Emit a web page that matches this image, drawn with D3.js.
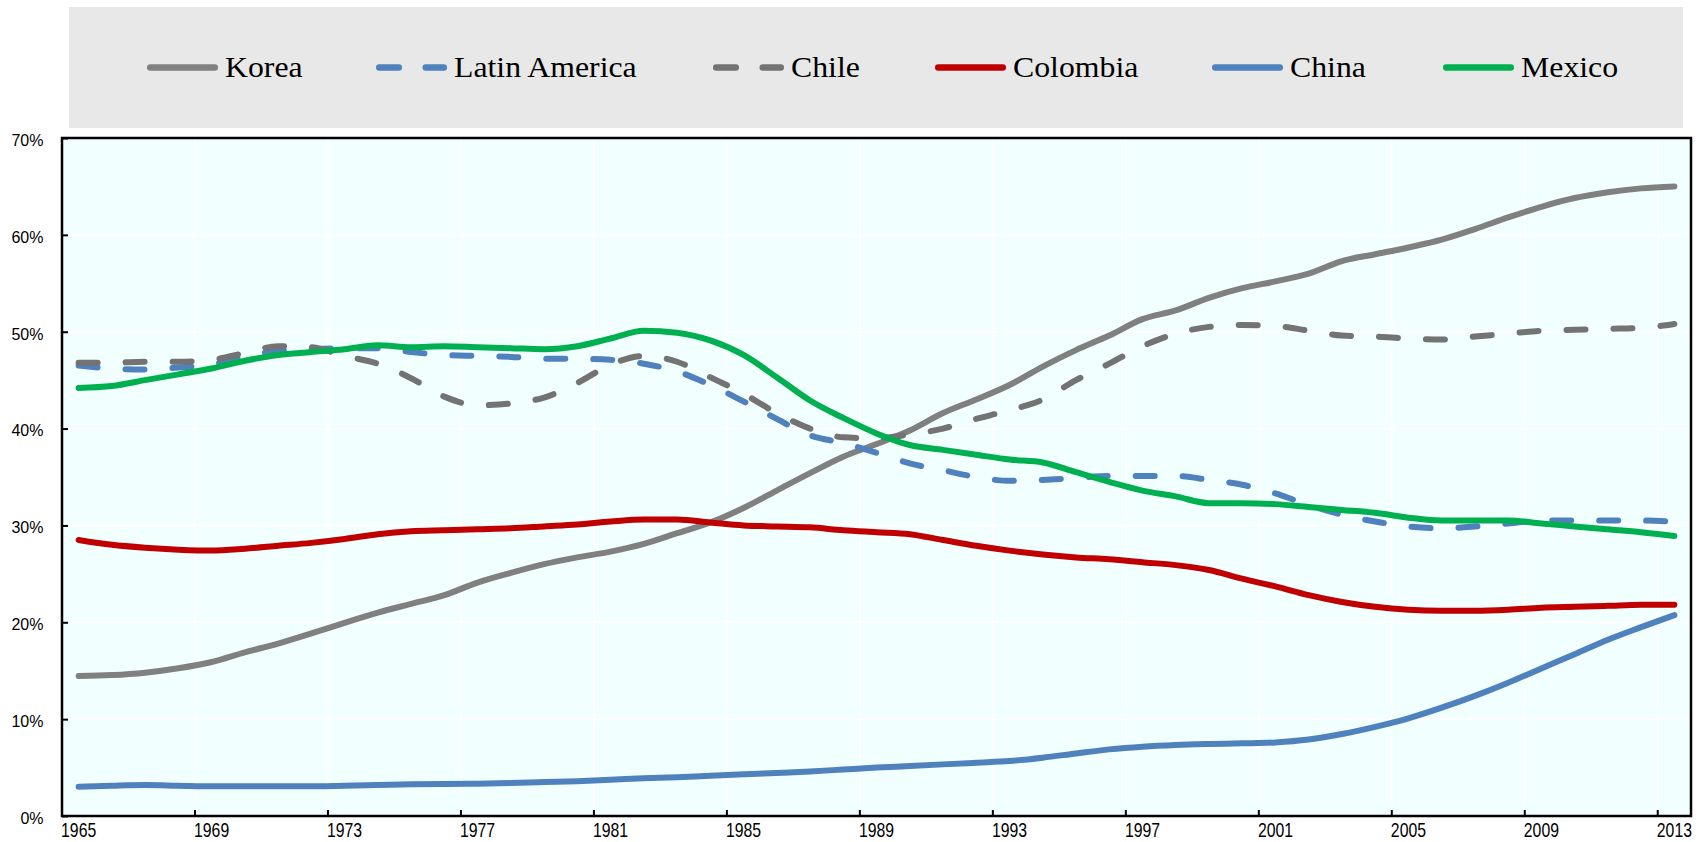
<!DOCTYPE html>
<html>
<head>
<meta charset="utf-8">
<script src="https://cdn.jsdelivr.net/npm/d3@7"></script>
<style>
  html, body { margin: 0; padding: 0; background: #ffffff; }
  svg { display: block; }
</style>
</head>
<body>
<svg id="chart" width="1708" height="842"></svg>
<script>
// ---- Data (share of ..., 1965–2013) ----
const years = d3.range(1965, 2014);
const xTickYears = d3.range(1965, 2014, 4);
const yTicks = [0, 0.1, 0.2, 0.3, 0.4, 0.5, 0.6, 0.7];

const korea = [14.45,14.55,14.8,15.25,15.9,16.9,17.8,18.85,19.95,21.0,
  21.9,22.8,24.1,25.1,26.0,26.7,27.3,
  28.1,29.2,30.3,31.8,33.6,35.4,37.1,38.4,39.8,41.6,43.0,44.5,46.4,48.1,49.6,51.3,52.2,
  53.5,54.5,55.2,56.0,57.3,58.0,58.7,59.5,60.6,61.8,62.9,63.8,64.4,64.8,65.0];
const latinAmerica = [46.5,46.2,46.1,46.3,46.6,47.5,48.0,48.2,48.3,48.3,
  47.9,47.6,47.5,47.4,47.2,47.2,47.1,
  46.7,45.9,44.5,42.8,41.0,39.3,38.5,37.5,36.4,35.7,35.0,34.6,34.7,34.9,35.1,35.1,35.1,
  34.7,34.2,33.3,32.1,31.1,30.4,29.9,29.7,29.9,30.2,30.5,30.5,30.5,30.5,30.4];
const chile = [46.8,46.8,46.9,46.9,47.1,47.8,48.5,48.4,47.5,46.7,
  45.2,43.3,42.4,42.6,43.2,44.7,46.6,
  47.5,46.9,45.3,43.6,41.6,40.0,39.1,39.0,39.4,40.0,41.0,41.9,43.0,45.0,46.7,48.5,49.8,
  50.5,50.7,50.6,50.1,49.6,49.5,49.3,49.2,49.5,49.8,50.1,50.2,50.3,50.4,50.8];
const colombia = [28.5,28.0,27.7,27.5,27.4,27.6,27.9,28.2,28.6,29.1,
  29.4,29.5,29.6,29.7,29.9,30.1,30.4,
  30.6,30.6,30.3,30.0,29.9,29.8,29.5,29.3,29.1,28.5,27.9,27.4,27.0,26.7,26.5,26.2,25.9,
  25.4,24.5,23.7,22.8,22.1,21.6,21.3,21.2,21.2,21.3,21.5,21.6,21.7,21.8,21.8];
const china = [3.03,3.13,3.2,3.13,3.06,3.06,3.06,3.06,3.13,3.2,
  3.27,3.3,3.33,3.4,3.5,3.6,3.74,
  3.9,4.0,4.15,4.3,4.45,4.6,4.8,5.0,5.16,5.33,5.5,5.67,6.02,6.46,6.88,7.16,7.33,
  7.43,7.5,7.6,7.9,8.46,9.2,10.08,11.18,12.4,13.76,15.24,16.7,18.2,19.5,20.74];
const mexico = [44.2,44.4,45.0,45.6,46.2,47.0,47.6,47.9,48.2,48.6,
  48.4,48.5,48.4,48.3,48.2,48.5,49.3,
  50.1,49.9,49.1,47.6,45.3,42.9,41.1,39.5,38.3,37.8,37.3,36.8,36.5,35.5,34.5,33.6,33.0,
  32.3,32.3,32.2,31.9,31.6,31.3,30.8,30.5,30.5,30.5,30.2,29.9,29.6,29.3,28.9];

const seriesNames = ["Korea", "Latin America", "Chile", "Colombia", "China", "Mexico"];
const seriesValues = [korea, latinAmerica, chile, colombia, china, mexico];
const seriesColors = ["#808080", "#4F81BD", "#737373", "#C00000", "#4F81BD", "#00B050"];
const seriesDashed = [false, true, true, false, false, false];

// ---- Layout ----
const svg = d3.select("#chart");
const plot = { left: 62, top: 138, right: 1691, bottom: 816 };
const legendStarts = [147, 376, 713, 935, 1212, 1443];

const x = d3.scaleBand().domain(years).range([plot.left, plot.right]).padding(0);
const y = d3.scaleLinear().domain([0, 0.7]).range([plot.bottom, plot.top]);
const cx = yr => x(yr) + x.bandwidth() / 2;

// Legend box
svg.append("rect")
  .attr("x", 69).attr("y", 7).attr("width", 1614).attr("height", 121)
  .attr("fill", "#E8E8E8");

// Plot background
svg.append("rect")
  .attr("x", plot.left).attr("y", plot.top)
  .attr("width", plot.right - plot.left).attr("height", plot.bottom - plot.top)
  .attr("fill", "#F2FFFF");

// Gridlines
const grid = svg.append("g");
grid.selectAll("line.h").data(yTicks.slice(1, -1)).join("line")
  .attr("x1", plot.left).attr("x2", plot.right)
  .attr("y1", d => y(d)).attr("y2", d => y(d))
  .attr("stroke", "#ffffff").attr("stroke-width", 2);
grid.selectAll("line.v").data(xTickYears.slice(1)).join("line")
  .attr("x1", d => x(d)).attr("x2", d => x(d))
  .attr("y1", plot.top).attr("y2", plot.bottom)
  .attr("stroke", "#ffffff").attr("stroke-width", 1.5);

// Lines
const line = d3.line()
  .x((d, i) => cx(years[i]))
  .y(d => y(d / 100))
  .curve(d3.curveMonotoneX);

const lines = svg.append("g");
seriesValues.forEach((vals, k) => {
  lines.append("path")
    .attr("d", line(vals))
    .attr("fill", "none")
    .attr("stroke", seriesColors[k])
    .attr("stroke-width", 6)
    .attr("stroke-linecap", "round")
    .attr("stroke-linejoin", "round")
    .attr("stroke-dasharray", seriesDashed[k] ? "19,28" : null);
});

// Axes
const yAxis = d3.axisLeft(y).tickValues(yTicks).tickSize(-6).tickPadding(0)
  .tickFormat(d3.format(".0%"));
const yG = svg.append("g").attr("transform", `translate(${plot.left},0)`).call(yAxis);
yG.select(".domain").remove();
yG.selectAll(".tick line").attr("stroke", "#000").attr("stroke-width", 2);
yG.selectAll(".tick text")
  .attr("x", -18.5).attr("dy", null).attr("y", 7.3)
  .attr("font-family", "'Liberation Sans', Arial, sans-serif")
  .attr("font-size", 16).attr("fill", "#000").attr("text-anchor", "end");

const xAxis = d3.axisBottom(x).tickValues(xTickYears).tickSize(-6).tickFormat("");
const xG = svg.append("g").attr("transform", `translate(0,${plot.bottom})`).call(xAxis);
xG.select(".domain").remove();
xG.selectAll(".tick").attr("transform", d => `translate(${x(d)},0)`);
xG.selectAll(".tick line").attr("stroke", "#000").attr("stroke-width", 2);

// x labels (centred on category)
svg.append("g").selectAll("text").data(xTickYears).join("text")
  .attr("transform", d => `translate(${cx(d)},837) scale(0.79,1)`)
  .attr("text-anchor", "middle")
  .attr("font-family", "'Liberation Sans', Arial, sans-serif")
  .attr("font-size", 20).attr("fill", "#000")
  .text(d => d);

// Plot border
svg.append("rect")
  .attr("x", plot.left).attr("y", plot.top)
  .attr("width", plot.right - plot.left).attr("height", plot.bottom - plot.top)
  .attr("fill", "none").attr("stroke", "#000").attr("stroke-width", 2.5);

// Legend
const leg = svg.append("g");
const ly = 67.5;
const textScale = 1.06;
seriesNames.forEach((name, k) => {
  const lx = legendStarts[k];
  leg.append("line")
    .attr("x1", lx + 3.25).attr("x2", lx + 71 - 3.25)
    .attr("y1", ly).attr("y2", ly)
    .attr("stroke", seriesColors[k]).attr("stroke-width", 6.5)
    .attr("stroke-linecap", "round")
    .attr("stroke-dasharray", seriesDashed[k] ? "19.5,27" : null);
  leg.append("text")
    .attr("transform", `translate(${lx + 78},77) scale(${textScale},1)`)
    .attr("font-family", "'Liberation Serif', 'Times New Roman', serif")
    .attr("font-size", 30).attr("fill", "#000")
    .text(name);
});
</script>
</body>
</html>
